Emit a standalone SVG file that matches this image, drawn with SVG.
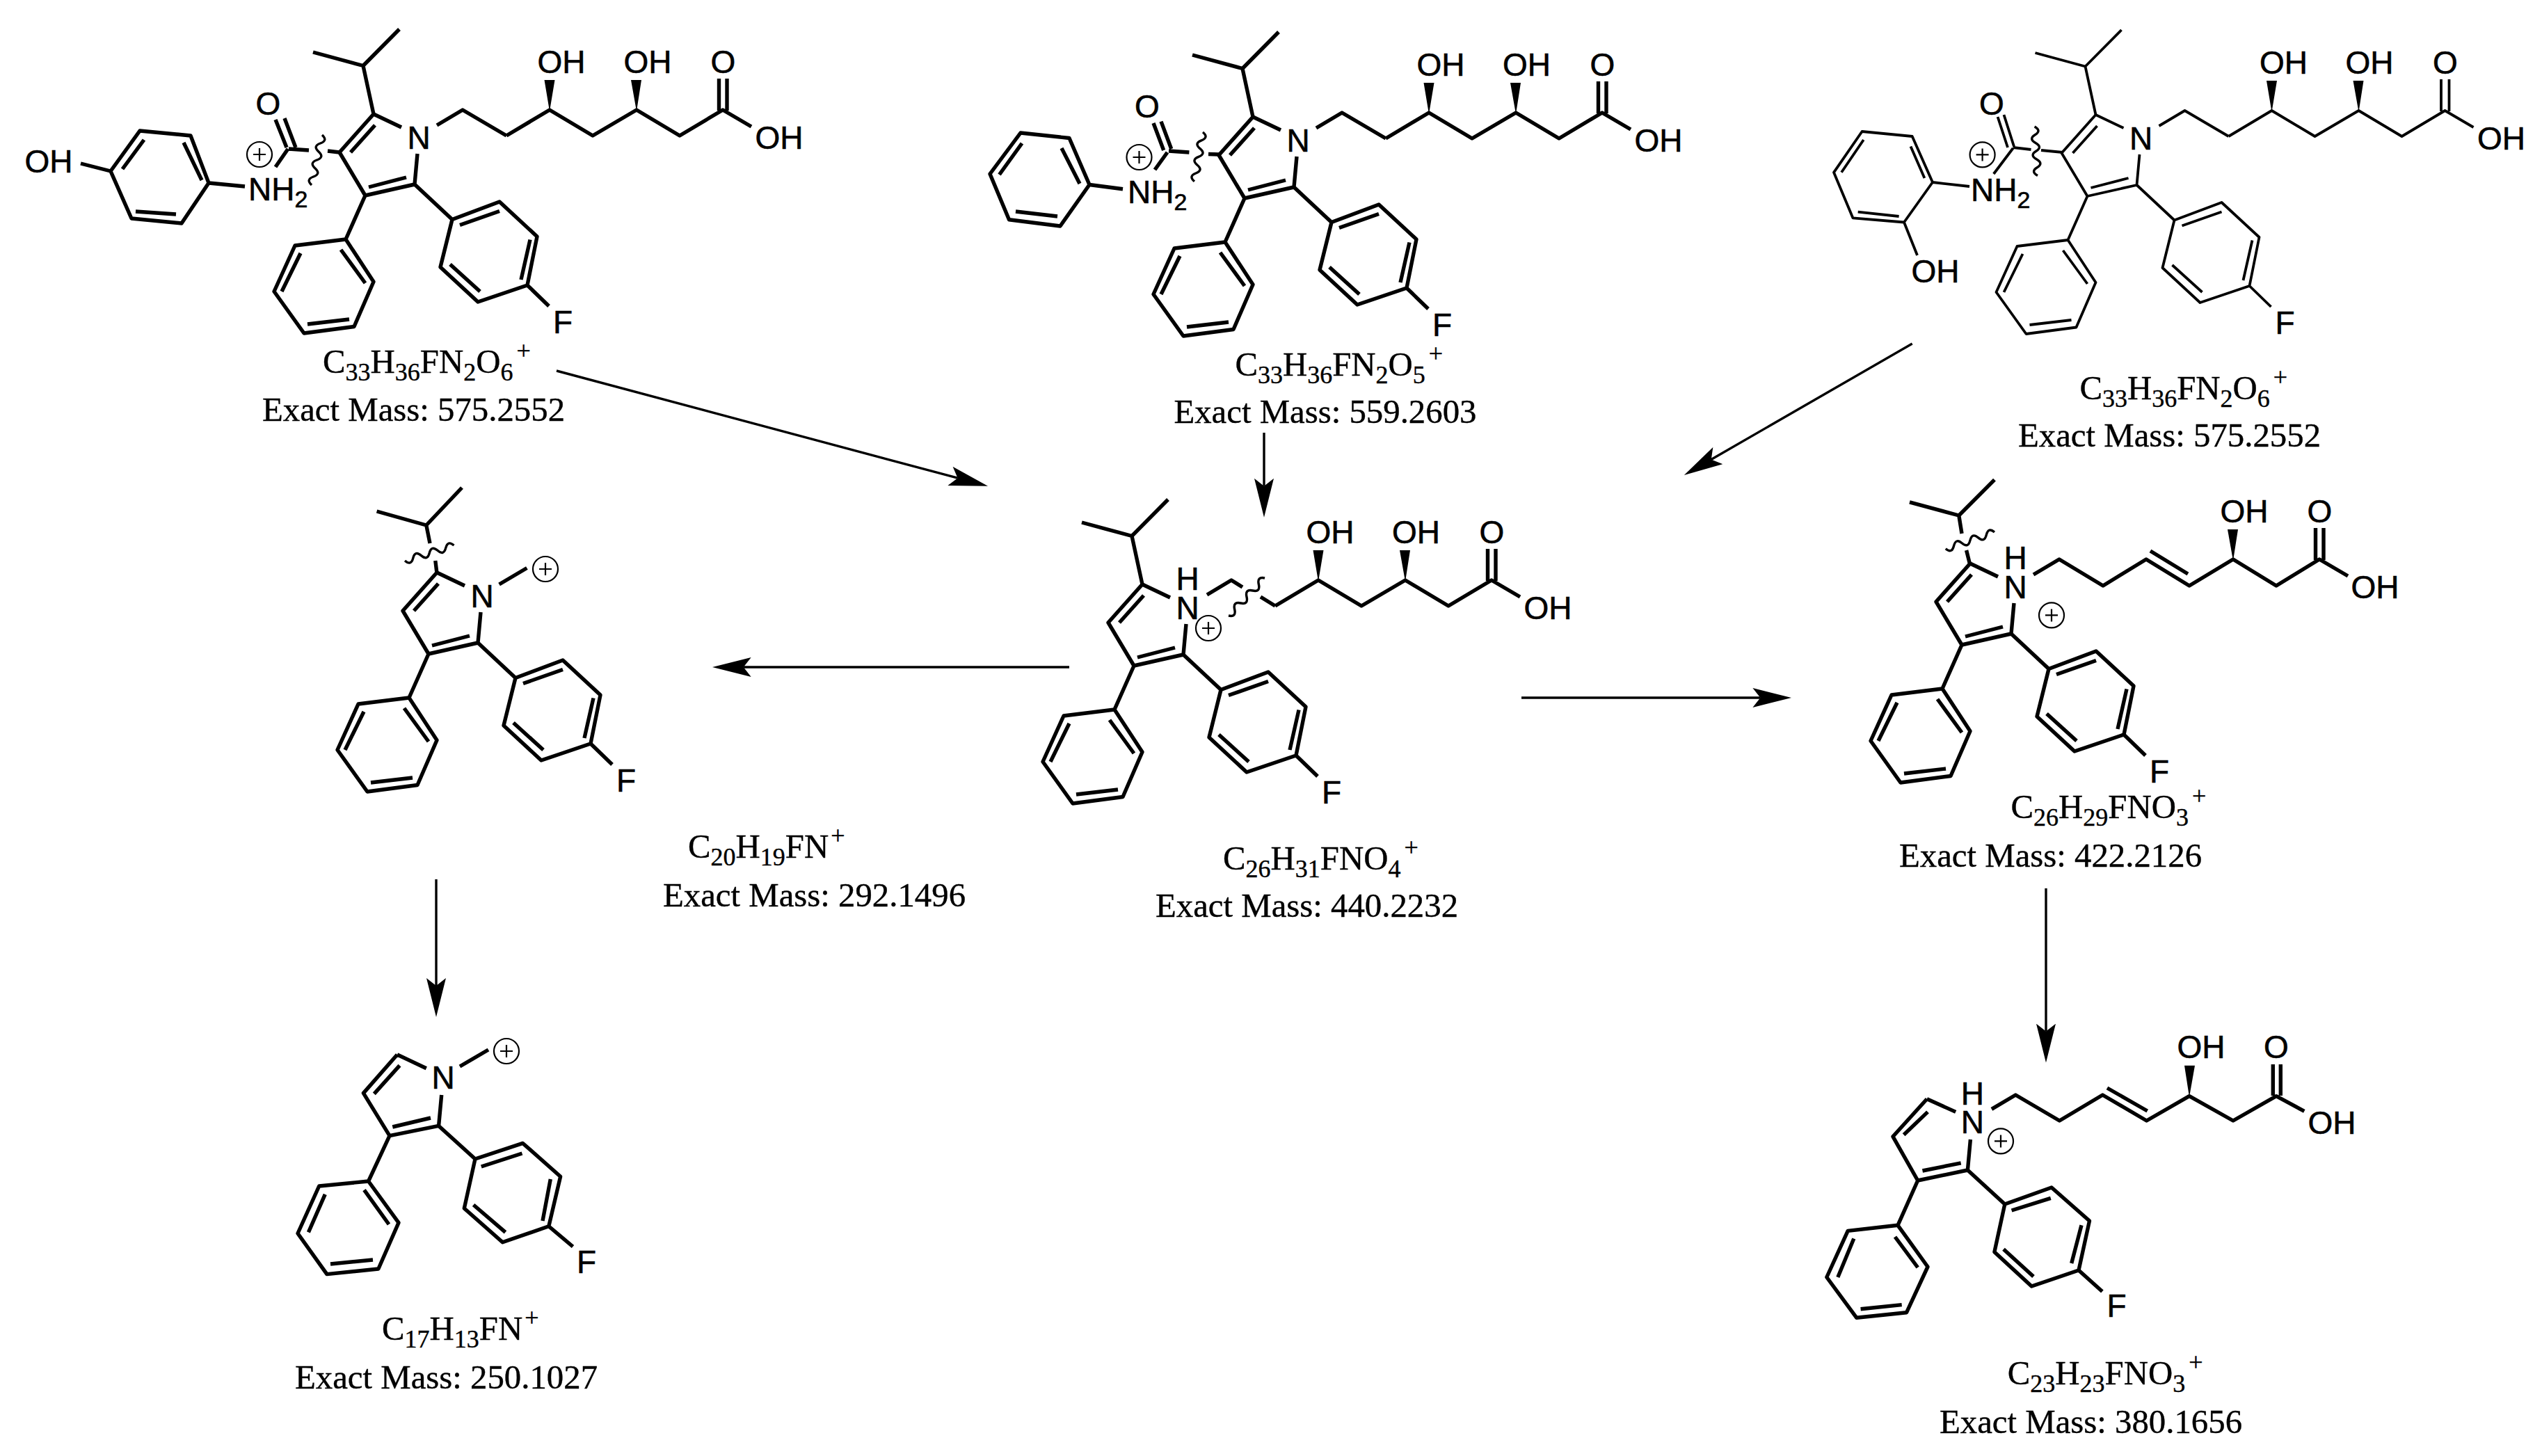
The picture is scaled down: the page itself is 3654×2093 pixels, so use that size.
<svg xmlns="http://www.w3.org/2000/svg" xmlns:xlink="http://www.w3.org/1999/xlink" width="3654" height="2093" viewBox="0 0 3654 2093">
<style>
.bg{fill:#fff}
.b{fill:none;stroke:#000;stroke-width:5.4;stroke-linejoin:round}
.thin{stroke-width:3.8}
.w{fill:none;stroke:#000;stroke-width:3.4}
.c{fill:none;stroke:#000;stroke-width:2.2}
.a{font-family:"Liberation Sans",Arial,sans-serif;font-size:46px;fill:#000;stroke:#000;stroke-width:.6}
.m{text-anchor:middle}
.a2{font-size:34px}
.f{font-family:"Liberation Serif","Times New Roman",serif;font-size:48.8px;fill:#000;stroke:#000;stroke-width:.4}
.s{font-size:36px}
.arrow{fill:none;stroke:#000;stroke-width:3.4}
</style>
<defs>
<marker id="head" markerUnits="userSpaceOnUse" viewBox="0 0 56 28" markerWidth="56" markerHeight="28" refX="11" refY="14" orient="auto"><path d="M56,14 L0,0 L11,14 L0,28Z" fill="#000"/></marker>
<path id="core" d="M-65,-33 L-25,-14 M-65,-33 L-114,22 L-77,84 L-6,68 L-2,24 M-63,-17 L-98,22 M-72,72 L-18,58 M-77,84 L-105,147 M-105,147 L-65,208 L-93,272.5 L-165,282 L-208,222 L-178,156 Z M-112,162 L-77,210 M-100,262 L-160,269 M-197,222 L-170,167 M-6,68 L48,118.5 M48,118.5 L116,93 L170,143 L156,213 L85,237 L31,187 Z M59,126.5 L116,106.5 M160,147.5 L147,205 M45,183 L88,222 M156,213 L187,243"/>
<path id="iso" d="M-65,-33 L-80,-102.5 L-28,-155 M-80,-102.5 L-152,-122"/>
<path id="tailA" d="M26,-17 L63,-39 L126,-2"/>
<path id="tailB" d="M126,-2 L188,-39 L250,-2 L313,-39 L375,-2 L437,-39 L478,-15 M431.5,-38 L431.5,-84 M443,-38 L443,-84"/>
<path id="wedges" d="M188,-37 L180.5,-82 L195.5,-82Z M313,-37 L305,-82 L320,-82Z" fill="#000" stroke="none"/>
<g id="cat"><ellipse rx="18" ry="18"/><path d="M-9,0 H9 M0,-9 V9"/></g>
</defs>
<rect class="bg" width="3654" height="2093"/>

<g id="connectors">
<path class="arrow" marker-end="url(#head)" d="M800,533 L1376.6,687.2"/>
<path class="arrow" marker-end="url(#head)" d="M1817,622 L1817,698.75"/>
<path class="arrow" marker-end="url(#head)" d="M2748.7,494 L2459.8,660.5"/>
<path class="arrow" marker-end="url(#head)" d="M1537,959 L1068.7,959"/>
<path class="arrow" marker-end="url(#head)" d="M2187,1003 L2530.4,1003"/>
<path class="arrow" marker-end="url(#head)" d="M627,1264 L627,1417"/>
<path class="arrow" marker-end="url(#head)" d="M2941,1277 L2941,1482.6"/>
</g>

<g id="mol-1">
<g class="b" transform="translate(602,197)"><use href="#core"/><use href="#iso"/><use href="#tailA"/><use href="#tailB"/><use href="#wedges"/></g>
<path class="b" d="M488,219 L471,217 M444,216 L415,214 M396,172 L412,212 M409,170 L425,212 M414,214 L396,240 M300,263 L352,268 M201,188 L274,195 L300,263 L261,321 L189,314 L159,246 Z M207,201 L176,243 M264,205 L290,259 M195,304 L253,308 M159,246 L116,235"/>
<path class="w" d="M463,194 q8.75,8 -2.5,12 t-2.5,12 t-2.5,12 t-2.5,12 t-2.5,12 t-2.5,12"/>
<use class="c" href="#cat" x="373" y="222"/>
<text class="a m" x="602" y="214">N</text><text class="a m" x="809" y="478.5">F</text><text class="a m" x="807" y="105">OH</text><text class="a m" x="931" y="105">OH</text><text class="a m" x="1039.5" y="105">O</text><text class="a m" x="1120" y="214">OH</text><text class="a m" x="385.5" y="164.5">O</text><text class="a m" x="70" y="248">OH</text>
<text class="a" x="357" y="288">NH<tspan class="a2" dy="10">2</tspan></text>
<text class="f" x="464" y="536">C<tspan class="s" dy="11">33</tspan><tspan dy="-11">H</tspan><tspan class="s" dy="11">36</tspan><tspan dy="-11">FN</tspan><tspan class="s" dy="11">2</tspan><tspan dy="-11">O</tspan><tspan class="s" dy="11">6</tspan><tspan class="s" dx="5" dy="-31">+</tspan></text>
<text class="f" x="377" y="605">Exact Mass: 575.2552</text>
</g>

<g id="mol-2">
<g class="b" transform="translate(1866,201)"><use href="#core"/><use href="#iso"/><use href="#tailA"/><use href="#tailB"/><use href="#wedges"/></g>
<path class="b" d="M1752,222 L1737,221.5 M1709.4,219 L1680,217 M1658,177 L1672.7,216 M1669,174.6 L1683.7,214 M1678,219 L1660,244 M1566,265.5 L1614,271.7 M1467,191 L1537,198.5 L1566,265.5 L1524,325 L1450.5,315.7 L1423,250 Z M1526,213 L1552,264 M1520,311 L1460,304 M1436.5,251 L1469,206"/>
<path class="w" d="M1729,190 q9,7.5 -2,11.8 t-2,11.8 t-2,11.8 t-2,11.8 t-2,11.8 t-2,11.8"/>
<use class="c" href="#cat" x="1637.5" y="226"/>
<text class="a m" x="1866" y="218">N</text><text class="a m" x="2073" y="482.5">F</text><text class="a m" x="2071" y="109">OH</text><text class="a m" x="2194.5" y="109">OH</text><text class="a m" x="2303.5" y="109">O</text><text class="a m" x="2384" y="218">OH</text><text class="a m" x="1649" y="168.5">O</text>
<text class="a" x="1621" y="292">NH<tspan class="a2" dy="10">2</tspan></text>
<text class="f" x="1775.4" y="539.5">C<tspan class="s" dy="11">33</tspan><tspan dy="-11">H</tspan><tspan class="s" dy="11">36</tspan><tspan dy="-11">FN</tspan><tspan class="s" dy="11">2</tspan><tspan dy="-11">O</tspan><tspan class="s" dy="11">5</tspan><tspan class="s" dx="5" dy="-31">+</tspan></text>
<text class="f" x="1687.4" y="608.4">Exact Mass: 559.2603</text>
</g>

<g id="mol-3">
<g class="b thin" transform="translate(3077.5,198)"><use href="#core"/><use href="#iso"/><use href="#tailA"/><use href="#tailB"/><use href="#wedges"/></g>
<path class="b thin" d="M2965,219 L2934,216 M2919.5,215 L2893.7,212 M2871.6,168 L2886,212 M2880.5,165 L2895,210.5 M2893.7,213 L2865.8,250 M2778,262 L2831,268 M2676.6,189 L2748.7,196 L2778,262 L2737,319.5 L2663.4,313.3 L2636,247.8 Z M2746.5,210.5 L2766.4,256 M2729.6,311 L2670.7,304.7 M2647,247.8 L2678.8,201 M2737,319.5 L2756,367"/>
<path class="w" d="M2924.6,182 q10.4,5.9 0.73,11.75 t0.73,11.75 t0.73,11.75 t0.73,11.75 t0.73,11.75 t0.73,11.75"/>
<use class="c" href="#cat" x="2849.6" y="222.4"/>
<text class="a m" x="3077.5" y="215">N</text><text class="a m" x="3284.5" y="479.5">F</text><text class="a m" x="3282.5" y="106">OH</text><text class="a m" x="3406" y="106">OH</text><text class="a m" x="3515" y="106">O</text><text class="a m" x="3595.5" y="215">OH</text><text class="a m" x="2863" y="165">O</text><text class="a m" x="2782" y="405.6">OH</text>
<text class="a" x="2833" y="289">NH<tspan class="a2" dy="10">2</tspan></text>
<text class="f" x="2989.4" y="574">C<tspan class="s" dy="11">33</tspan><tspan dy="-11">H</tspan><tspan class="s" dy="11">36</tspan><tspan dy="-11">FN</tspan><tspan class="s" dy="11">2</tspan><tspan dy="-11">O</tspan><tspan class="s" dy="11">6</tspan><tspan class="s" dx="5" dy="-31">+</tspan></text>
<text class="f" x="2901" y="642.4">Exact Mass: 575.2552</text>
</g>

<g id="mol-center">
<g class="b" transform="translate(1707,873)"><use href="#core"/><use href="#iso"/><path d="M28,-18 L63,-39 L79,-29 M105,-15 L126,-2"/><use href="#tailB"/><use href="#wedges"/></g>
<path class="w" d="M1766,885 q11.3,2.5 8.67,-9 t8.67,-9 t8.67,-9 t8.67,-9 t8.67,-9 t8.67,-9"/>
<use class="c" href="#cat" x="1737" y="903"/>
<text class="a m" x="1707" y="890">N</text><text class="a m" x="1707" y="848">H</text><text class="a m" x="1914" y="1154.5">F</text><text class="a m" x="1912" y="781">OH</text><text class="a m" x="2035.5" y="781">OH</text><text class="a m" x="2144.5" y="781">O</text><text class="a m" x="2225" y="890">OH</text>
<text class="f" x="1758" y="1249.5">C<tspan class="s" dy="11">26</tspan><tspan dy="-11">H</tspan><tspan class="s" dy="11">31</tspan><tspan dy="-11">FNO</tspan><tspan class="s" dy="11">4</tspan><tspan class="s" dx="5" dy="-31">+</tspan></text>
<text class="f" x="1661" y="1318">Exact Mass: 440.2232</text>
</g>

<g id="mol-left">
<g class="b" transform="translate(693,856)"><use href="#core"/></g>
<path class="b" d="M628,824 L625.8,806 M618,781 L612.8,755 L664,701 M612.8,755 L541.6,735 M717.6,840 L757.4,816.5"/>
<path class="w" d="M582,806 q8.9,7.7 11.75,-3.67 t11.75,-3.67 t11.75,-3.67 t11.75,-3.67 t11.75,-3.67 t11.75,-3.67"/>
<use class="c" href="#cat" x="784" y="818"/>
<text class="a m" x="693" y="873">N</text><text class="a m" x="900" y="1137.5">F</text>
<text class="f" x="989" y="1232.6">C<tspan class="s" dy="11">20</tspan><tspan dy="-11">H</tspan><tspan class="s" dy="11">19</tspan><tspan dy="-11">FN</tspan><tspan class="s" dx="3" dy="-20">+</tspan></text>
<text class="f" x="953" y="1303">Exact Mass: 292.1496</text>
</g>

<g id="mol-right">
<g class="b" transform="translate(2897,843)"><use href="#core"/><path d="M26,-17 L63,-39 L126,-1 L188,-39 L250,-1 L313,-39 L375,-1 L437,-39 L478,-15 M194,-51 L248,-18 M431.5,-38 L431.5,-84 M443,-38 L443,-84"/><path d="M313,-37 L305,-82 L320,-82Z" fill="#000" stroke="none"/></g>
<path class="b" d="M2832,812.6 L2826.6,791 M2820,767 L2815.8,741 L2867,689.7 M2815.8,741 L2745,721.8"/>
<path class="w" d="M2796.8,788.7 q8.9,7.6 11.7,-3.95 t11.7,-3.95 t11.7,-3.95 t11.7,-3.95 t11.7,-3.95 t11.7,-3.95"/>
<use class="c" href="#cat" x="2949" y="884.4"/>
<text class="a m" x="2897" y="860">N</text><text class="a m" x="2897" y="818">H</text><text class="a m" x="3104" y="1124.5">F</text><text class="a m" x="3226" y="751">OH</text><text class="a m" x="3334.5" y="751">O</text><text class="a m" x="3414" y="860">OH</text>
<text class="f" x="2890.5" y="1176">C<tspan class="s" dy="11">26</tspan><tspan dy="-11">H</tspan><tspan class="s" dy="11">29</tspan><tspan dy="-11">FNO</tspan><tspan class="s" dy="11">3</tspan><tspan class="s" dx="5" dy="-31">+</tspan></text>
<text class="f" x="2730" y="1245.5">Exact Mass: 422.2126</text>
</g>

<g id="mol-bottom-left">
<path class="b" d="M571,1516 L612.8,1535.7 M571,1516 L522.4,1571.4 L560,1632.7 L630.6,1618.4 L634.7,1574 M574.5,1531.6 L537.8,1572.4 M564.3,1620 L619,1607 M560,1632.7 L529.6,1698 M529.6,1698 L573,1757.6 L543.9,1824 L469.9,1831.6 L428,1773 L458.7,1705 Z M523.5,1710.7 L559,1760 M536,1811 L475,1817 M443.4,1771.4 L467.3,1716.8 M630.6,1618.4 L683,1666 M683,1666 L751.5,1643.4 L805.6,1691.3 L788.8,1762.8 L722.4,1785.7 L667.3,1737 Z M691.8,1677 L750.5,1658 M791.3,1695 L780,1755 M680.6,1732 L726.5,1771.4 M788.8,1762.8 L823.5,1792 M661,1533 L702,1509"/>
<use class="c" href="#cat" x="728" y="1511"/>
<text class="a m" x="637" y="1565">N</text><text class="a m" x="843" y="1830">F</text>
<text class="f" x="549" y="1926">C<tspan class="s" dy="11">17</tspan><tspan dy="-11">H</tspan><tspan class="s" dy="11">13</tspan><tspan dy="-11">FN</tspan><tspan class="s" dx="3" dy="-20">+</tspan></text>
<text class="f" x="424" y="1996">Exact Mass: 250.1027</text>
</g>

<g id="mol-bottom-right">
<path class="b" d="M2769.9,1579.7 L2811.2,1598.4 M2769.9,1579.7 L2721,1633.8 L2756.7,1697 L2828.4,1682 L2832.4,1638 M2771,1598.4 L2736.6,1631.3 M2763.5,1683 L2818.7,1671.8 M2756.7,1697 L2728,1761.3 M2728,1761.3 L2771,1821 L2740.6,1886.7 L2668.8,1894.3 L2625.8,1836 L2656.2,1769.4 Z M2724,1778 L2756.7,1822 M2733.7,1875.6 L2674.6,1881.7 M2641.8,1836 L2664.8,1780.5 M2828.4,1682 L2881.8,1731 M2881.8,1731 L2949,1707 L3003.5,1755 L2988,1826 L2920.3,1849 L2866.9,1799.7 Z M2891.6,1740 L2947.8,1722.4 M2992,1761.3 L2977.7,1816 M2880,1795.7 L2923,1835 M2988,1826 L3021.9,1856.4 M2862.9,1594.4 L2897.3,1574 L2960.4,1611 L3022.4,1574 L3085.6,1611 L3147,1575.7 L3210,1611 L3272,1575.7 L3312.3,1597.4 M3029,1564 L3086.7,1597 M3267.3,1575 L3267.3,1530 M3278.3,1575 L3278.3,1530"/>
<path d="M3147,1577 L3140,1531.7 L3155,1531.7Z" fill="#000"/>
<use class="c" href="#cat" x="2876" y="1640.4"/>
<text class="a m" x="2835.3" y="1629">N</text><text class="a m" x="2835.3" y="1588.3">H</text><text class="a m" x="3042.5" y="1892.8">F</text><text class="a m" x="3164" y="1521">OH</text><text class="a m" x="3272" y="1521">O</text><text class="a m" x="3352" y="1629.8">OH</text>
<text class="f" x="2885.8" y="1990">C<tspan class="s" dy="11">23</tspan><tspan dy="-11">H</tspan><tspan class="s" dy="11">23</tspan><tspan dy="-11">FNO</tspan><tspan class="s" dy="11">3</tspan><tspan class="s" dx="5" dy="-31">+</tspan></text>
<text class="f" x="2788" y="2060">Exact Mass: 380.1656</text>
</g>
</svg>
